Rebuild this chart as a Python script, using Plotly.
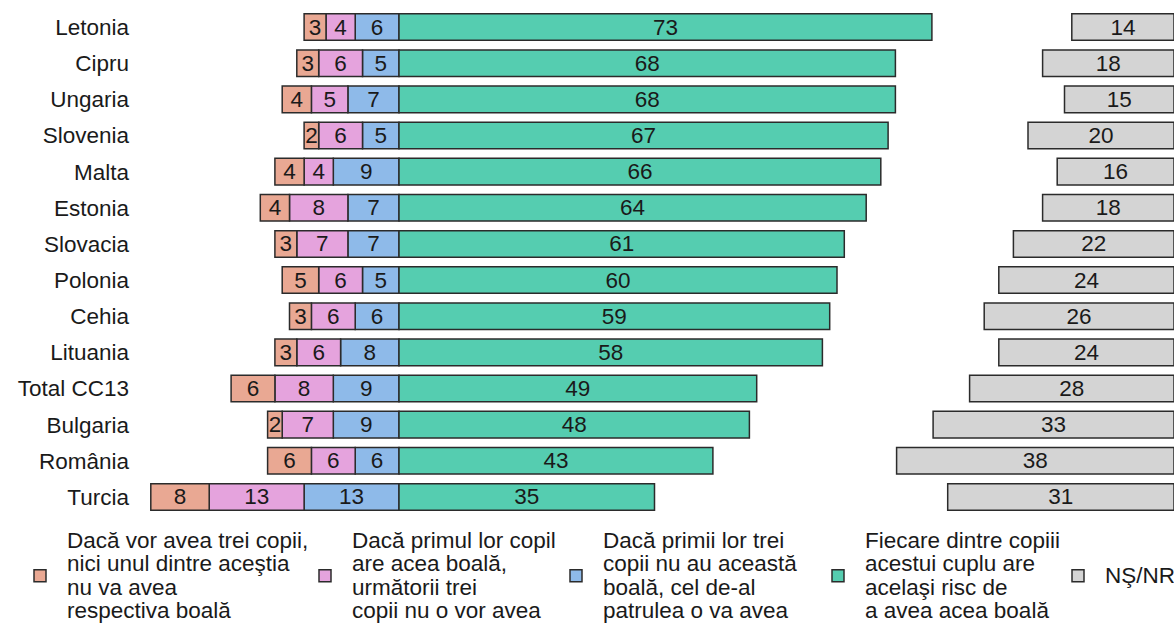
import plotly.graph_objects as go

countries = ["Letonia", "Cipru", "Ungaria", "Slovenia", "Malta", "Estonia", "Slovacia",
             "Polonia", "Cehia", "Lituania", "Total CC13", "Bulgaria", "România", "Turcia"]
none_of_three = [3, 3, 4, 2, 4, 4, 3, 5, 3, 3, 6, 2, 6, 8]
next_three_not = [4, 6, 5, 6, 4, 8, 7, 6, 6, 6, 8, 7, 6, 13]
fourth_will = [6, 5, 7, 5, 9, 7, 7, 5, 6, 8, 9, 9, 6, 13]
same_risk = [73, 68, 68, 67, 66, 64, 61, 60, 59, 58, 49, 48, 43, 35]
ns_nr = [14, 18, 15, 20, 16, 18, 22, 24, 26, 24, 28, 33, 38, 31]

legend_names = [
    ["Dacă vor avea trei copii,", "nici unul dintre aceştia", "nu va avea", "respectiva boală"],
    ["Dacă primul lor copil", "are acea boală,", "următorii trei", "copii nu o vor avea"],
    ["Dacă primii lor trei", "copii nu au această", "boală, cel de-al", "patrulea o va avea"],
    ["Fiecare dintre copiii", "acestui cuplu are", "acelaşi risc de", "a avea acea boală"],
    ["NŞ/NR"],
]
colors = ["#E9A893", "#E5A3DD", "#8EBAE9", "#55CDB0", "#D4D4D4"]

FS = 22.5
FONT = "Liberation Sans, Arial, sans-serif"
W, H = 1174, 623
legend_text_x = [67, 352, 603, 865, 1105]
LEGEND_CENTER_Y = 576
ITEMW = 44


def lname(lines):
    return "<br>".join(f"<span style='font-size:{FS}px'>{l}</span>" for l in lines)


line = dict(color="#2b2b2b", width=1.5)
common = dict(orientation="h", textposition="inside", insidetextanchor="middle",
              textangle=0,
              textfont=dict(size=FS, color="#1a1a1a", family=FONT),
              constraintext="none", cliponaxis=True)

legend_ids = ["legend", "legend2", "legend3", "legend4", "legend5"]

fig = go.Figure()
series_neg = [(fourth_will, 2), (next_three_not, 1), (none_of_three, 0)]
for vals, i in series_neg:
    fig.add_trace(go.Bar(y=countries, x=[-v for v in vals], text=[str(v) for v in vals],
                         name=lname(legend_names[i]), legend=legend_ids[i],
                         marker=dict(color=colors[i], line=line), **common))
fig.add_trace(go.Bar(y=countries, x=same_risk, text=[str(v) for v in same_risk],
                     name=lname(legend_names[3]), legend=legend_ids[3],
                     marker=dict(color=colors[3], line=line), **common))
fig.add_trace(go.Bar(y=countries, x=ns_nr, text=[str(v) for v in ns_nr],
                     name=lname(legend_names[4]), legend=legend_ids[4], xaxis="x2",
                     marker=dict(color=colors[4], line=line), **common))

PX_PER_UNIT = 7.3
L, R, T, B = 140, 0, 9, 108
plot_w = W - L - R
plot_h = H - T - B
zero_px = 399
xmin = -(zero_px - L) / PX_PER_UNIT
xmax = (W - R - zero_px) / PX_PER_UNIT
span = xmax - xmin

legends = {}
for k, lid in enumerate(legend_ids):
    legends[lid] = dict(
        xref="paper", yref="paper",
        x=(legend_text_x[k] - ITEMW - 10 - L) / plot_w, xanchor="left",
        y=((H - B) - LEGEND_CENTER_Y) / plot_h, yanchor="middle",
        font=dict(size=18, color="#1a1a1a", family=FONT), valign="middle",
        bgcolor="rgba(0,0,0,0)", itemwidth=ITEMW, orientation="v",
    )

fig.update_layout(
    width=W, height=H,
    margin=dict(l=L, r=R, t=T, b=B, pad=0, autoexpand=False),
    barmode="relative",
    bargap=0.265,
    paper_bgcolor="white", plot_bgcolor="white",
    font=dict(family=FONT, size=FS, color="#1a1a1a"),
    uniformtext=dict(minsize=FS, mode="show"),
    xaxis=dict(range=[xmin, xmax], showgrid=False, zeroline=False, showticklabels=False,
               fixedrange=True),
    xaxis2=dict(range=[span, 0], overlaying="x", showgrid=False, zeroline=False,
                showticklabels=False, fixedrange=True),
    yaxis=dict(categoryorder="array", categoryarray=countries, autorange="reversed",
               showgrid=False, zeroline=False, ticks="", ticklabelstandoff=10,
               tickfont=dict(size=FS, color="#1a1a1a")),
    showlegend=True,
    **legends,
)

fig.write_html("out.html")
